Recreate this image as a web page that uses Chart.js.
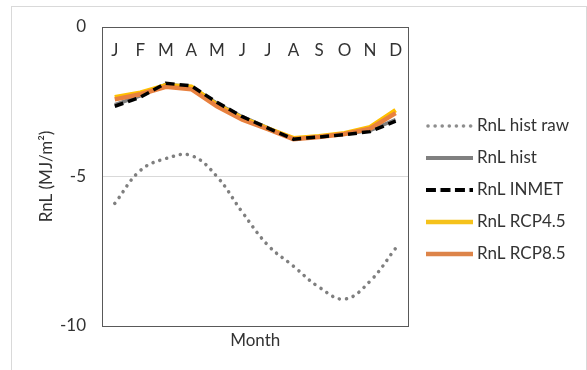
<!DOCTYPE html>
<html>
<head>
<meta charset="utf-8">
<script src="https://cdn.jsdelivr.net/npm/chart.js@4/dist/chart.umd.min.js"></script>
<style>
  html, body { margin: 0; padding: 0; background: #fff; }
  #frame { position: absolute; left: 11px; top: 6px; width: 574px; height: 380px; border: 1px solid #d9d9d9; }
  #wrap { position: absolute; left: 0; top: 0; width: 587px; height: 370px; }
</style>
</head>
<body>
<div id="frame"></div>
<div id="wrap"><canvas id="rnl" width="587" height="370"></canvas></div>
<script>
const months = ['J', 'F', 'M', 'A', 'M', 'J', 'J', 'A', 'S', 'O', 'N', 'D'];
const yTicks = [0, -5, -10];

// monthly net longwave radiation, MJ/m²
const histRaw = [-5.9, -4.8, -4.4, -4.3, -5.0, -6.2, -7.3, -8.0, -8.7, -9.1, -8.5, -7.4];
const hist    = [-2.6, -2.3, -1.92, -2.0, -2.55, -3.0, -3.37, -3.75, -3.66, -3.57, -3.46, -3.1];
const inmet   = [-2.65, -2.35, -1.88, -1.97, -2.52, -3.0, -3.38, -3.75, -3.68, -3.6, -3.5, -3.15];
const rcp45   = [-2.35, -2.2, -1.95, -2.0, -2.6, -3.05, -3.4, -3.72, -3.65, -3.55, -3.35, -2.78];
const rcp85   = [-2.42, -2.25, -2.0, -2.08, -2.65, -3.1, -3.42, -3.75, -3.68, -3.58, -3.4, -2.88];

const FONT = 'Lato';
const TXT = '#333333';
const AXIS = '#595959';

// small line swatch used as the legend marker, so dashes show up in the legend too
function swatch(color, width, dash, cap) {
    const c = document.createElement('canvas');
    c.width = 47;
    c.height = 8;
    const g = c.getContext('2d');
    g.strokeStyle = color;
    g.lineWidth = width;
    g.lineCap = cap || 'butt';
    g.setLineDash(dash || []);
    g.beginPath();
    g.moveTo(cap === 'round' ? 2 : 0, 4);
    g.lineTo(47, 4);
    g.stroke();
    return c;
}

// month initials sit just inside the top edge of the plot
const monthLabels = {
    id: 'monthLabels',
    afterDatasetsDraw(chart) {
        const { ctx, scales: { x }, chartArea } = chart;
        ctx.save();
        ctx.fillStyle = TXT;
        ctx.font = '17px ' + FONT;
        ctx.textAlign = 'center';
        ctx.textBaseline = 'middle';
        months.forEach((m, i) => {
            ctx.fillText(m, x.getPixelForValue(i), chartArea.top + 24);
        });
        ctx.restore();
    }
};

new Chart(document.getElementById('rnl'), {
    type: 'line',
    data: {
        labels: months,
        datasets: [
            { label: 'RnL hist raw', data: histRaw, borderColor: '#7f7f7f', borderWidth: 3.5,
              borderDash: [0.1, 7], borderCapStyle: 'round', tension: 0.4, order: 0,
              pointStyle: swatch('#8c8c8c', 3.5, [0.1, 7], 'round') },
            { label: 'RnL hist', data: hist, borderColor: '#808080', borderWidth: 3.5, order: 4,
              pointStyle: swatch('#808080', 4) },
            { label: 'RnL INMET', data: inmet, borderColor: '#000000', borderWidth: 3.5,
              borderDash: [9, 5], order: 1,
              pointStyle: swatch('#000000', 4, [10, 4.5]) },
            { label: 'RnL RCP4.5', data: rcp45, borderColor: '#ffc000', borderWidth: 4.5, order: 3,
              pointStyle: swatch('#f5c21b', 4.5) },
            { label: 'RnL RCP8.5', data: rcp85, borderColor: '#e8813f', borderWidth: 4.5, order: 2,
              pointStyle: swatch('#dd8449', 4.5) }
        ]
    },
    options: {
        responsive: false,
        animation: false,
        elements: { point: { radius: 0 } },
        layout: { padding: { left: 0, top: 27, right: 8, bottom: 17 } },
        scales: {
            x: {
                position: 'bottom',
                offset: true,
                grid: { drawOnChartArea: false, drawTicks: false },
                border: { display: true, color: AXIS, width: 1 },
                ticks: { display: false },
                title: { display: true, text: 'Month', color: TXT, font: { family: FONT, size: 17 }, padding: { top: 0, bottom: 2 } },
                afterFit: s => { s.height = 27; }
            },
            x2: {
                position: 'top',
                offset: true,
                grid: { drawOnChartArea: false, drawTicks: false },
                border: { display: true, color: AXIS, width: 1 },
                ticks: { display: false },
                afterFit: s => { s.height = 0; }
            },
            y: {
                min: -10,
                max: 0,
                afterBuildTicks: s => { s.ticks = yTicks.map(v => ({ value: v })); },
                grid: { color: '#d9d9d9', drawTicks: false },
                border: { display: true, color: AXIS, width: 1 },
                ticks: { color: TXT, font: { family: FONT, size: 17 }, padding: 16 },
                title: { display: true, text: 'RnL (MJ/m²)', color: TXT, font: { family: FONT, size: 17 }, padding: { top: 36, bottom: 0 } },
                afterFit: s => { s.width = 102; }
            },
            y2: {
                position: 'right',
                min: -10,
                max: 0,
                grid: { drawOnChartArea: false, drawTicks: false },
                border: { display: true, color: AXIS, width: 1 },
                ticks: { display: false },
                afterFit: s => { s.width = 7; }
            }
        },
        plugins: {
            legend: {
                position: 'right',
                maxWidth: 220,
                labels: {
                    usePointStyle: true,
                    pointStyleWidth: 38,
                    padding: 15,
                    color: TXT,
                    font: { family: FONT, size: 17 },
                    sort: (a, b) => a.datasetIndex - b.datasetIndex
                }
            },
            tooltip: { enabled: false }
        }
    },
    plugins: [monthLabels]
});
</script>
</body>
</html>
